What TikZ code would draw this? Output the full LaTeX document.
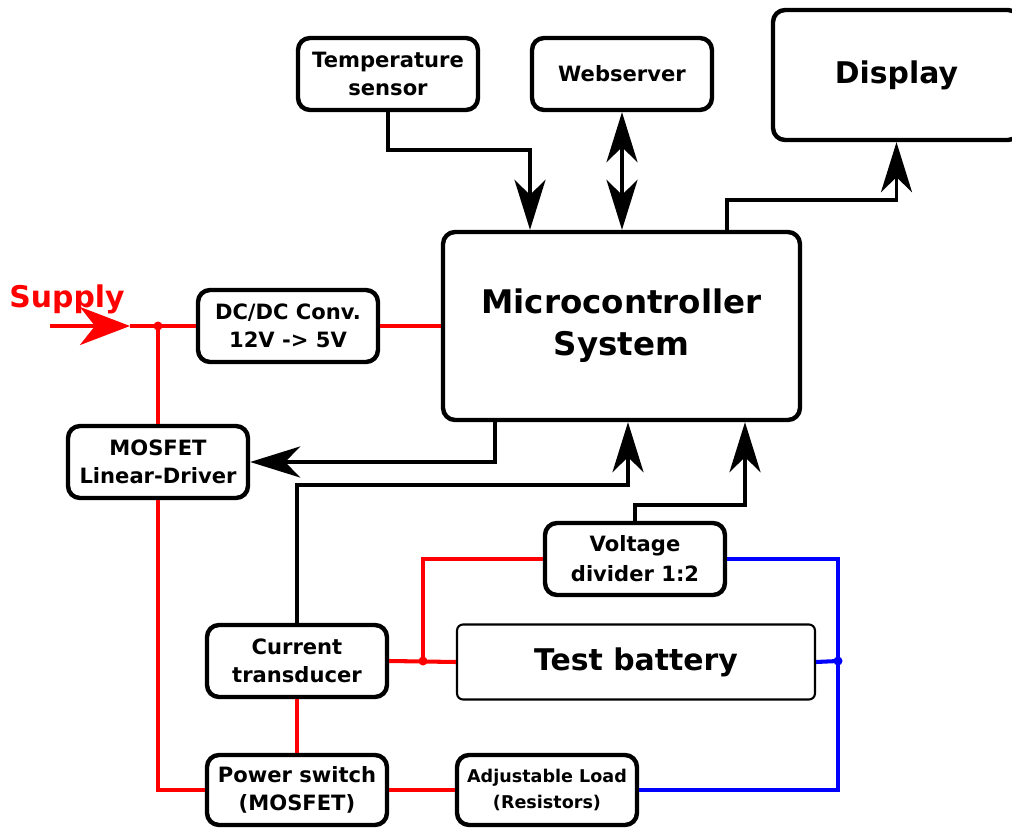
\documentclass[tikz,border=0pt]{standalone}
\usepackage{fontspec}
\setmainfont{DejaVu Sans}
\usetikzlibrary{arrows.meta}

\tikzset{
  blk/.style={draw=black, line width=2.5pt, rounded corners=0.24cm, align=center,
    minimum width=3.6cm, minimum height=1.44cm, inner sep=0pt,
    font=\bfseries\fontsize{12}{16}\selectfont},
  sig/.style={draw=black, line width=2.1pt},
  pwr/.style={draw=red, line width=2.3pt},
  gnd/.style={draw=blue, line width=2.3pt},
  tip/.style={-{Stealth[length=1cm, width=0.62cm, inset=0.3cm]}},
  dtip/.style={{Stealth[length=1cm, width=0.62cm, inset=0.3cm]}-{Stealth[length=1cm, width=0.62cm, inset=0.3cm]}},
}

\begin{document}
\begin{tikzpicture}[x=0.02cm, y=-0.02cm]

\useasboundingbox (0,0) rectangle (1012,828);

% Blocks on top
\node[blk] (temp) at (388,74) {Temperature\\sensor};
\node[blk] (web) at (622,74) {Webserver};
\node[blk, minimum width=4.94cm, minimum height=2.6cm, font=\bfseries\fontsize{17}{22}\selectfont] (disp) at (896.5,75) {Display};

% Microcontroller
\node[blk, minimum width=7.14cm, minimum height=3.76cm, font=\bfseries\fontsize{18.5}{24}\selectfont] (micro) at (621.5,326) {Microcontroller\\System};

% Supply side
\node[blk] (dcdc) at (288,326) {DC/DC Conv.\\12V -> 5V};
\node[blk] (drv) at (158,462) {MOSFET\\Linear-Driver};
\node[text=red, font=\bfseries\fontsize{17}{20}\selectfont] (supply) at (67,299) {Supply};

% Measurement side
\node[blk, font=\bfseries\fontsize{12}{17}\selectfont] (vdiv) at (635,559) {Voltage\\divider 1:2};
\node[blk, line width=1.2pt, rounded corners=0.12cm, minimum width=7.16cm, minimum height=1.5cm, font=\bfseries\fontsize{17}{20}\selectfont] (bat) at (636,662) {Test battery};
\node[blk] (cur) at (297,661) {Current\\transducer};
\node[blk, minimum height=1.4cm] (psw) at (297,790) {Power switch\\(MOSFET)};
\node[blk, minimum height=1.4cm, font=\bfseries\fontsize{10}{15}\selectfont] (load) at (547,790) {Adjustable Load\\(Resistors)};

% Signal lines
\coordinate (tbend) at (530,150);
\draw[sig, tip] (temp.south) |- (tbend) -- (tbend |- micro.north);
\draw[sig, dtip] (web.south) -- (web.south |- micro.north);
\coordinate (dbend) at (727,200);
\draw[sig, tip] (dbend |- micro.north) -- (dbend) -| (disp.south);
\coordinate (mbend) at (495,462);
\draw[sig, tip] (mbend |- micro.south) -- (mbend) -- (drv.east);
\coordinate (cbend) at (628,485);
\draw[sig, tip] (cur.north) |- (cbend) -- (cbend |- micro.south);
\coordinate (vbend) at (745,505);
\draw[sig, tip] (vdiv.north) |- (vbend) -- (vbend |- micro.south);

% Red lines
\coordinate (sin) at (50,326);
\coordinate (sjoin) at (158,326);
\draw[pwr, -{Stealth[length=1cm, width=0.76cm, inset=0.3cm]}] (sin) -- (130,326);
\draw[pwr] (130,326) -- (dcdc.west);
\draw[pwr] (dcdc.east) -- (micro.west |- dcdc.east);
\fill[red] (sjoin) circle [radius=4.5];
\draw[pwr] (sjoin) -- (drv.north);
\draw[pwr] (drv.south) |- (psw.west);
\draw[pwr] (psw.north) -- (cur.south);
\draw[pwr] (psw.east) -- (load.west);
\coordinate (bjoin) at (423,661);
\draw[pwr] (cur.east) -- (bat.west);
\fill[red] (bjoin) circle [radius=4.5];
\draw[pwr] (bjoin) |- (vdiv.west);

% Blue lines
\coordinate (gjoin) at (838,661);
\draw[gnd] (vdiv.east) -| (gjoin) |- (load.east);
\draw[gnd] (bat.east) -- (gjoin);
\fill[blue] (gjoin) circle [radius=4.5];

\end{tikzpicture}
\end{document}
